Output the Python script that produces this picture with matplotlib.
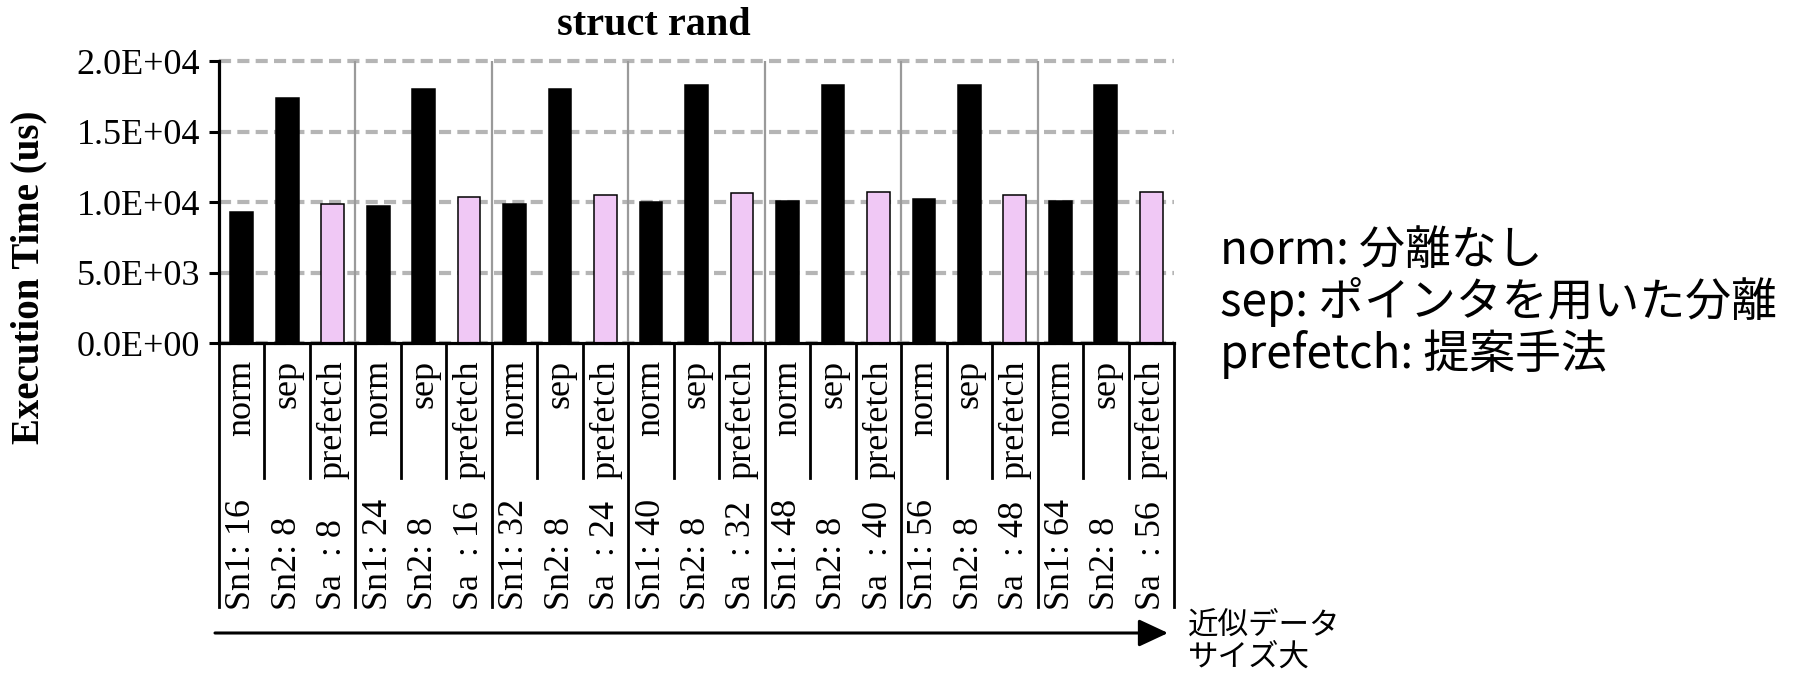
import matplotlib
matplotlib.use("Agg")
import matplotlib.pyplot as plt
from matplotlib import transforms
from matplotlib.lines import Line2D
from matplotlib.patches import FancyArrowPatch
from matplotlib.ticker import FuncFormatter

# ---- data -------------------------------------------------------------
methods = ["norm", "sep", "prefetch"]
sn1_sizes = [16, 24, 32, 40, 48, 56, 64]
sn2_sizes = [8, 8, 8, 8, 8, 8, 8]
sa_sizes = [8, 16, 24, 32, 40, 48, 56]

norm_us = [9300, 9700, 9850, 9980, 10050, 10200, 10050]
sep_us = [17400, 18000, 18050, 18300, 18300, 18300, 18300]
prefetch_us = [9900, 10400, 10500, 10650, 10700, 10500, 10700]

y_ticks = [0, 5000, 10000, 15000, 20000]

legend_lines = ["norm: 分離なし", "sep: ポインタを用いた分離", "prefetch: 提案手法"]
arrow_lines = ["近似データ", "サイズ大"]

# ---- styling ----------------------------------------------------------
SERIF = "Liberation Serif"
CJK = ["Noto Sans CJK JP", "DejaVu Sans"]
W, H = 1800, 674
PINK = "#f0c8f5"
GRID = "#b5b5b5"


def fx(px):
    return px / W


def fy(py):
    return 1 - py / H


fig = plt.figure(figsize=(W / 100, H / 100), dpi=100)
ax = fig.add_axes([fx(219), fy(343), fx(1174) - fx(219), fy(61.3) - fy(343)])

n_groups = len(norm_us)
n_series = len(methods)
n_slots = n_groups * n_series
bar_w = 0.5

series_vals = [norm_us, sep_us, prefetch_us]
series_fill = ["black", "black", PINK]
for s, (vals, fill) in enumerate(zip(series_vals, series_fill)):
    xs = [g * n_series + s for g in range(n_groups)]
    ax.bar(xs, vals, width=bar_w, color=fill, edgecolor="black",
           linewidth=1.1, zorder=3)

ax.set_xlim(-0.5, n_slots - 0.5)
ax.set_ylim(y_ticks[0], y_ticks[-1])

# dashed horizontal grid
ax.hlines(y_ticks, -0.5, n_slots - 0.5, colors=GRID, linewidth=3,
          linestyles=(0, (2.9, 1.5)), zorder=1, clip_on=False)

# gray group separators inside the plot
for g in range(1, n_groups):
    ax.vlines(g * n_series - 0.5, y_ticks[0], y_ticks[-1], colors="#9a9a9a",
              linewidth=1.6, zorder=2, clip_on=False)

for side in ("top", "right"):
    ax.spines[side].set_visible(False)
for side in ("left", "bottom"):
    ax.spines[side].set_linewidth(2.3)
    ax.spines[side].set_zorder(4)

ax.set_xticks([])
ax.set_yticks(y_ticks)
ax.yaxis.set_major_formatter(FuncFormatter(lambda v, _: "%.1E" % v))
ax.tick_params(axis="y", direction="out", length=7, width=2.2, pad=6.5,
               labelsize=26)
for lbl in ax.get_yticklabels():
    lbl.set_fontfamily(SERIF)

# ---- multi-level category axis ---------------------------------------
blend = transforms.blended_transform_factory(ax.transData, fig.transFigure)
for k in range(n_slots + 1):
    x = k - 0.5
    y_end = 607 if k % n_series == 0 else 478
    fig.add_artist(Line2D([x, x], [fy(343), fy(y_end)], transform=blend,
                          color="black", linewidth=2.0, clip_on=False))

for g in range(n_groups):
    size_labels = [f"Sn1: {sn1_sizes[g]}", f"Sn2: {sn2_sizes[g]}",
                   f"Sa  : {sa_sizes[g]}"]
    for s in range(n_series):
        x = g * n_series + s
        fig.text(x, fy(360), methods[s], transform=blend, rotation=90,
                 ha="center", va="top", fontsize=26, family=SERIF)
        fig.text(x, fy(610), size_labels[s], transform=blend, rotation=90,
                 ha="center", va="bottom", fontsize=26, family=SERIF)

# ---- titles -----------------------------------------------------------
fig.text(fx(654), fy(35), "struct rand", ha="center", va="baseline",
         fontsize=29, fontweight="bold", family=SERIF)
fig.text(fx(29), fy(277), "Execution Time (us)", rotation=90, ha="center",
         va="center", fontsize=28, fontweight="bold", family=SERIF)

# ---- method legend ----------------------------------------------------
for i, line in enumerate(legend_lines):
    fig.text(fx(1220), fy(264 + 52 * i), line, ha="left", va="baseline",
             fontsize=33, family=CJK)

# ---- size arrow -------------------------------------------------------
fig.add_artist(FancyArrowPatch((fx(215), fy(633)), (fx(1168), fy(633)),
                               transform=fig.transFigure,
                               arrowstyle="-|>,head_length=0.9,head_width=0.42",
                               mutation_scale=20, linewidth=2.2,
                               color="black", shrinkA=0, shrinkB=0))
for i, line in enumerate(arrow_lines):
    fig.text(fx(1188), fy(634 + 32 * i), line, ha="left", va="baseline",
             fontsize=22, family=CJK)

fig.savefig("out.png", dpi=100, facecolor="white")
